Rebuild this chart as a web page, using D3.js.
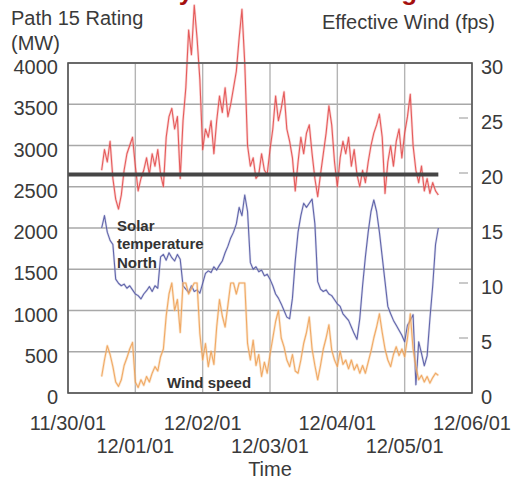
<!DOCTYPE html>
<html>
<head>
<meta charset="utf-8">
<script src="https://cdn.jsdelivr.net/npm/d3@7"></script>
<style>
  html, body { margin: 0; padding: 0; background: #fff; }
  svg { display: block; font-family: "Liberation Sans", Arial, sans-serif; }
</style>
</head>
<body>
<svg id="chart" width="515" height="479"></svg>
<script>
// ---------------- data ----------------
const titleText = "Dynamic Line Rating";
const leftAxisTitle = ["Path 15 Rating", "(MW)"];
const rightAxisTitle = "Effective Wind (fps)";
const xAxisTitle = "Time";
const xTickLabels = ["11/30/01", "12/01/01", "12/02/01", "12/03/01", "12/04/01", "12/05/01", "12/06/01"];
const leftTicks = [0, 500, 1000, 1500, 2000, 2500, 3000, 3500, 4000];
const rightTicks = [0, 5, 10, 15, 20, 25, 30];
const staticRating = 2650; // MW
// hourly samples starting 11/30/01 12:00
const firstSample = "2001-11-30T12:00";
const rating = [
  2700, 2950, 2800, 3050, 2600, 2350, 2230, 2400, 2700, 2900, 3000, 3100,
  2750, 2450, 2600, 2700, 2850, 2650, 2900, 2750, 2950, 2650, 2500, 3100,
  3350, 3450, 3200, 3350, 2600, 3300, 3700, 4400, 4100, 4700, 4300, 3800,
  2950, 3200, 3100, 3300, 2900, 3300, 3600, 3400, 3700, 3350, 3500, 3700,
  3900, 4300, 4650, 4000, 3000, 2750, 2850, 2600, 2650, 2900, 2700, 2650,
  2950, 3200, 3600, 3300, 3450, 3650, 3200, 3050, 2850, 2450, 2800, 3100,
  2900, 3150, 3250, 2900, 2600, 2380, 2650, 2900, 3150, 3480, 3250, 2800,
  2500, 2850, 3050, 2900, 3100, 2750, 2950, 2650, 2500, 2700, 2550, 2800,
  3000, 3150, 3250, 3380, 3100, 2420, 2800, 3000, 2750, 3050, 3200, 2850,
  3150, 3350, 3620, 3000, 2700, 2550, 2750, 2450, 2600, 2420, 2550, 2450,
  2400
];
const solarTempNorth = [
  2000, 2150, 1950, 1850, 1800, 1380, 1330, 1300, 1320, 1270, 1300, 1250,
  1200, 1180, 1140, 1200, 1240, 1290, 1230, 1300, 1270, 1650, 1680, 1610,
  1700, 1640, 1600, 1680, 1620, 1300, 1260, 1220, 1300, 1230, 1250, 1210,
  1330, 1450, 1480, 1460, 1530, 1490, 1550, 1600, 1700, 1780, 1880, 1950,
  2050, 2250, 2150, 2400, 2200, 1580, 1500, 1530, 1470, 1490, 1420, 1440,
  1380, 1300, 1200, 1150, 1080, 1000, 920, 900, 1150, 1600, 1950, 2150,
  2300, 2250, 2300, 2350, 2050, 1350, 1260, 1230, 1250, 1200, 1180, 1130,
  1080, 1050, 960, 920, 880, 800, 720, 650, 900, 1300, 1650, 1950,
  2200, 2340, 2200, 1950, 1650, 1350, 1050, 960, 880, 820, 760, 700,
  620, 820, 880, 950, 100, 620, 480, 330, 450, 900, 1300, 1800,
  2000
];
const windSpeed = [
  1.5, 3.0, 4.3, 3.5, 2.4, 1.0, 0.6, 1.2, 2.5, 3.2, 4.0, 4.6,
  1.0, 0.5, 1.2, 0.7, 1.5, 1.0, 1.8, 2.4, 2.0, 3.3, 4.0, 7.0,
  9.0, 10.0, 7.5, 8.5, 5.5, 10.0, 10.0, 9.0, 9.5, 10.0, 10.0, 5.4,
  3.0, 4.5, 2.4, 3.8, 2.6, 6.0, 8.5, 7.0, 6.0, 8.0, 10.0, 10.0,
  9.0, 10.0, 10.0, 10.0, 4.5, 3.0, 4.8, 2.5, 3.5, 1.5, 2.8, 1.8,
  3.5, 5.0, 6.5, 7.5, 5.0, 4.2, 3.0, 2.4, 3.5, 2.0, 1.8, 3.0,
  4.5, 5.5, 6.9, 4.0, 2.5, 1.2, 2.5, 4.0, 5.0, 6.2, 3.9, 3.0,
  2.4, 3.8, 2.6, 3.0, 2.2, 3.0, 2.1, 2.6, 1.8, 2.5, 1.8, 2.8,
  3.8, 5.0, 6.0, 7.2, 5.5, 4.0, 3.0, 2.4, 3.5, 4.2, 3.4, 4.0,
  3.3, 5.0, 7.2, 4.0, 2.4, 1.2, 1.6, 1.0, 1.5, 0.9, 1.4, 1.8,
  1.6
];

// ---------------- layout ----------------
const svg = d3.select("#chart");
const plot = { left: 68, right: 472, top: 63, bottom: 393 };
const parseDay = d3.timeParse("%m/%d/%y");
const t0 = d3.isoParse(firstSample);
const times = rating.map((_, i) => d3.timeHour.offset(t0, i));

const x = d3.scaleTime()
  .domain([parseDay(xTickLabels[0]), parseDay(xTickLabels[xTickLabels.length - 1])])
  .range([plot.left, plot.right]);
const yL = d3.scaleLinear().domain([0, 4000]).range([plot.bottom, plot.top]);
const yR = d3.scaleLinear().domain([0, 30]).range([plot.bottom, plot.top]);
const dayTicks = xTickLabels.map(parseDay);

// title (cut off at top, as in the reference: only descenders visible)
svg.append("text").attr("x", 160).attr("y", -0.5)
  .attr("font-size", 26).attr("font-weight", "bold").attr("fill", "#a50f0f")
  .text(titleText);

// gridlines
const grid = svg.append("g");
grid.selectAll("line.h").data(leftTicks).join("line")
  .attr("x1", plot.left).attr("x2", plot.right)
  .attr("y1", d => yL(d)).attr("y2", d => yL(d))
  .attr("stroke", "#a8a8a8").attr("stroke-width", 1.4);
grid.selectAll("line.v").data(dayTicks).join("line")
  .attr("x1", d => x(d)).attr("x2", d => x(d))
  .attr("y1", plot.top).attr("y2", plot.bottom)
  .attr("stroke", "#b4b4b4").attr("stroke-width", 1.4);

// right axis small tick marks inside plot
grid.selectAll("line.rt").data(rightTicks.filter(d => d > 0 && d < 30)).join("line")
  .attr("x1", plot.right - 13).attr("x2", plot.right - 4)
  .attr("y1", d => yR(d)).attr("y2", d => yR(d))
  .attr("stroke", "#bdbdbd").attr("stroke-width", 1.6);

// series
function drawLine(data, yScale, color, width, opacity) {
  const line = d3.line().x((d, i) => x(times[i])).y(d => yScale(d));
  svg.append("path").datum(data)
    .attr("d", line).attr("fill", "none")
    .attr("stroke", color).attr("stroke-width", width)
    .attr("stroke-opacity", opacity).attr("stroke-linejoin", "round");
}
drawLine(rating, yL, "#f3a6a6", 2.6, 0.45);
drawLine(rating, yL, "#e03c3c", 1.1, 0.8);
drawLine(solarTempNorth, yL, "#b5b8dc", 2.4, 0.45);
drawLine(solarTempNorth, yL, "#4b509e", 1.1, 0.85);
drawLine(windSpeed, yR, "#f7cfa3", 2.6, 0.5);
drawLine(windSpeed, yR, "#ec9440", 1.1, 0.75);

// static rating line
svg.append("line")
  .attr("x1", plot.left).attr("x2", x(times[times.length - 1]))
  .attr("y1", yL(staticRating)).attr("y2", yL(staticRating))
  .attr("stroke", "#454545").attr("stroke-width", 4);

// frame
svg.append("rect")
  .attr("x", plot.left).attr("y", plot.top)
  .attr("width", plot.right - plot.left).attr("height", plot.bottom - plot.top)
  .attr("fill", "none").attr("stroke", "#555").attr("stroke-width", 1.6);

// axes labels
const txtColor = "#3a3a3a";
svg.append("g").selectAll("text").data(leftTicks).join("text")
  .attr("x", 58).attr("y", d => yL(d) + 11)
  .attr("text-anchor", "end").attr("font-size", 20).attr("fill", txtColor)
  .text(d => d);
svg.append("g").selectAll("text").data(rightTicks).join("text")
  .attr("x", 481).attr("y", d => yR(d) + 11)
  .attr("text-anchor", "start").attr("font-size", 20).attr("fill", txtColor)
  .text(d => d);
svg.append("g").selectAll("text").data(xTickLabels).join("text")
  .attr("x", d => x(parseDay(d)))
  .attr("y", (d, i) => i % 2 === 0 ? 430 : 453)
  .attr("text-anchor", "middle").attr("font-size", 20).attr("fill", txtColor)
  .text(d => d);
svg.append("text").attr("x", x(parseDay(xTickLabels[3]))).attr("y", 476)
  .attr("text-anchor", "middle").attr("font-size", 20).attr("fill", txtColor)
  .text(xAxisTitle);
svg.append("g").selectAll("text").data(leftAxisTitle).join("text")
  .attr("x", 11).attr("y", (d, i) => 25 + i * 25)
  .attr("font-size", 20).attr("fill", txtColor).text(d => d);
svg.append("text").attr("x", 495).attr("y", 29)
  .attr("text-anchor", "end").attr("font-size", 20).attr("fill", txtColor)
  .text(rightAxisTitle);

// in-plot series labels
const solarLbl = svg.append("text").attr("font-size", 15).attr("font-weight", "bold").attr("fill", "#333");
["Solar", "temperature", "North"].forEach((s, i) => {
  solarLbl.append("tspan").attr("x", 117).attr("y", 230.5 + i * 18.5).text(s);
});
svg.append("text").attr("x", 167).attr("y", 388)
  .attr("font-size", 15).attr("font-weight", "bold").attr("fill", "#333")
  .text("Wind speed");
</script>
</body>
</html>
